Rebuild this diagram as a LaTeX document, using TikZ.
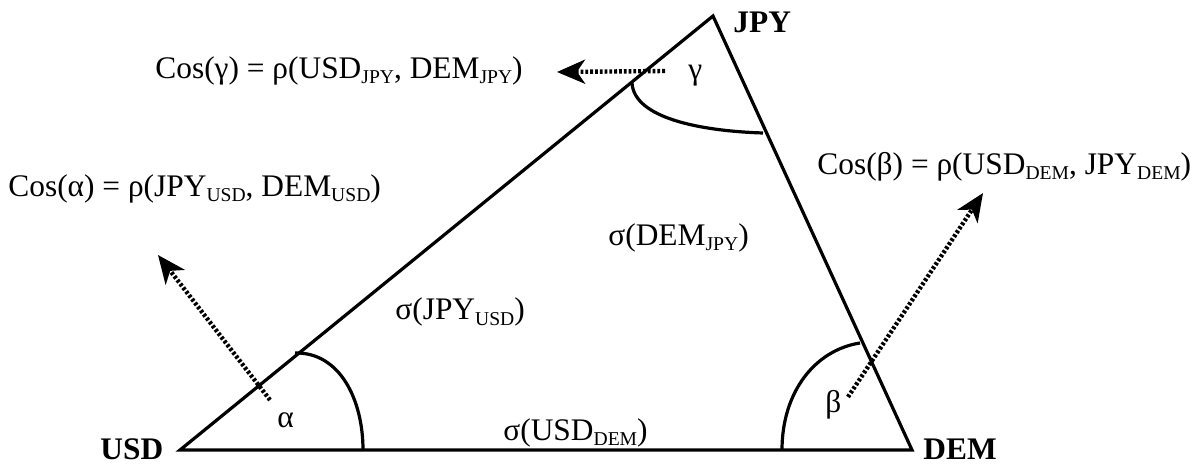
\documentclass[tikz,border=0pt]{standalone}
\usepackage{fontspec}
\setmainfont{Liberation Serif}
\usetikzlibrary{arrows.meta}
\newcommand\sbs[1]{\raisebox{-2.5pt}{\fontsize{9.8}{10}\selectfont #1}}
\tikzset{
  edge/.style={line width=1.6pt, line join=miter, line cap=butt},
  anglearc/.style={line width=1.6pt},
  ptr/.style={line width=2.2pt, dash pattern=on 1.4pt off 1pt,
     -{Stealth[length=14pt,width=12pt,inset=4pt]}},
  lbl/.style={inner sep=0pt, anchor=base west, font=\fontsize{15.7}{19}\selectfont},
  vlbl/.style={inner sep=0pt, anchor=base west, font=\fontsize{15.7}{19}\selectfont\bfseries},
}
\begin{document}
\begin{tikzpicture}[x=0.5pt,y=-0.5pt]
\useasboundingbox (0,0) rectangle (1197,464);
\coordinate (U) at (180,450);
\coordinate (D) at (912,450);
\coordinate (J) at (713,16);
\draw[edge] (U) -- (J) -- (D) -- cycle;
% angle arcs
\coordinate (a1) at (295,353);
\coordinate (a2) at (363,450);
\draw[anglearc] (a1) .. controls (340,352) and (363,400) .. (a2);
\coordinate (b1) at (782,450);
\coordinate (b2) at (860,343);
\draw[anglearc] (b1) .. controls (782,392) and (815,350) .. (b2);
\coordinate (g1) at (632,83);
\coordinate (g2) at (763,133);
\draw[anglearc] (g1) .. controls (634,118) and (700,131) .. (g2);
% vertex labels
\node[vlbl] (nU) at (100,459) {USD};
\node[vlbl] (nD) at (923,459) {DEM};
\node[vlbl] (nJ) at (733,33) {JPY};
% angle labels
\node[lbl] (al) at (277,427) {α};
\node[lbl] (be) at (825,412) {β};
\node[lbl] (ga) at (688,80) {γ};
% side labels
\node[lbl] (sJU) at (395,320) {σ(JPY\sbs{USD})};
\node[lbl] (sDJ) at (608,246) {σ(DEM\sbs{JPY})};
\node[lbl] (sUD) at (503,440) {σ(USD\sbs{DEM})};
% cos labels
\node[lbl] (cg) at (155,79) {Cos(γ) = ρ(USD\sbs{JPY}, DEM\sbs{JPY})};
\node[lbl] (cb) at (817,175) {Cos(β) = ρ(USD\sbs{DEM}, JPY\sbs{DEM})};
\node[lbl] (ca) at (8,197) {Cos(α) = ρ(JPY\sbs{USD}, DEM\sbs{USD})};
% pointer arrows
\coordinate (pa0) at (270,400);
\coordinate (pa1) at (158,255);
\coordinate (pb0) at (848,397);
\coordinate (pb1) at (983,193);
\coordinate (pg0) at (665,71);
\coordinate (pg1) at (557,72);
\draw[ptr] (pa0) -- (pa1);
\draw[ptr] (pb0) -- (pb1);
\draw[ptr] (pg0) -- (pg1);
\end{tikzpicture}
\end{document}
